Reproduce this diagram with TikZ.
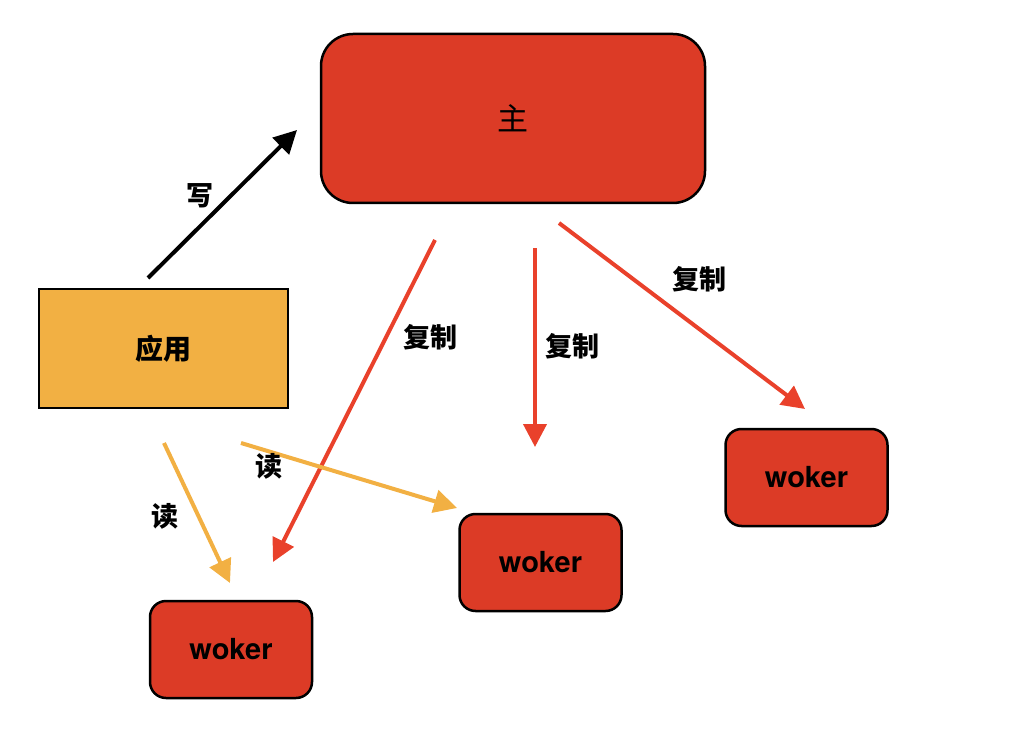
\documentclass[tikz,border=0pt]{standalone}
\usepackage{fontspec}
\setmainfont{TeX Gyre Heros}
\newfontfamily\cjk{Noto Sans CJK SC}
\usetikzlibrary{arrows.meta}
\definecolor{boxred}{RGB}{220,59,38}
\definecolor{arrred}{RGB}{233,65,43}
\definecolor{appyellow}{RGB}{242,176,67}

\begin{document}
\begin{tikzpicture}[x=1pt, y=-1pt, line width=2.5pt,
    redbox/.style={draw=black, fill=boxred, rounded corners=16pt, minimum width=162pt, minimum height=97pt, font=\fontsize{29}{30}\selectfont\bfseries},
    lbl/.style={font=\fontsize{27}{28}\selectfont\cjk\bfseries},
    link/.style={line width=4pt, -{Triangle[length=23pt,width=23pt]}}]
  \useasboundingbox (0,0) rectangle (1014,746);
  % boxes
  \node[draw=black, fill=boxred, rounded corners=32pt, minimum width=384pt, minimum height=169pt,
        font=\fontsize{31}{32}\selectfont\cjk] (master) at (513,118.5) {主};
  \node[draw=black, fill=appyellow, minimum width=249pt, minimum height=119pt,
        font=\fontsize{28}{30}\selectfont\cjk\bfseries] (app) at (163.5,348.5) {应用};
  \node[redbox] (wkA) at (231,649.5) {woker};
  \node[redbox] (wkB) at (540.5,562.5) {woker};
  \node[redbox] (wkC) at (806.5,477.5) {woker};
  % free ends of the arrows
  \coordinate (wStart) at (148,278);   \coordinate (wEnd) at (297,130);
  \coordinate (rA1) at (435,240);      \coordinate (rA2) at (273,562);
  \coordinate (rB1) at (535,248);      \coordinate (rB2) at (535,447);
  \coordinate (rC1) at (559,223);      \coordinate (rC2) at (805,409);
  \coordinate (yA1) at (164,443);      \coordinate (yA2) at (230,583);
  \coordinate (yB1) at (241,443);      \coordinate (yB2) at (457,508);
  % write
  \draw[link, black] (wStart) -- (wEnd);
  \node[lbl] (wLbl) at (200,196) {写};
  % replication
  \draw[link, arrred] (rA1) -- (rA2);
  \draw[link, arrred] (rB1) -- (rB2);
  \draw[link, arrred] (rC1) -- (rC2);
  \node[lbl] (cpA) at (430,337) {复制};
  \node[lbl] (cpB) at (572,346) {复制};
  \node[lbl] (cpC) at (699,279) {复制};
  % read
  \draw[link, appyellow] (yA1) -- (yA2);
  \draw[link, appyellow] (yB1) -- (yB2);
  \node[lbl] (rdA) at (165,516) {读};
  \node[lbl] (rdB) at (269,466) {读};
\end{tikzpicture}
\end{document}
